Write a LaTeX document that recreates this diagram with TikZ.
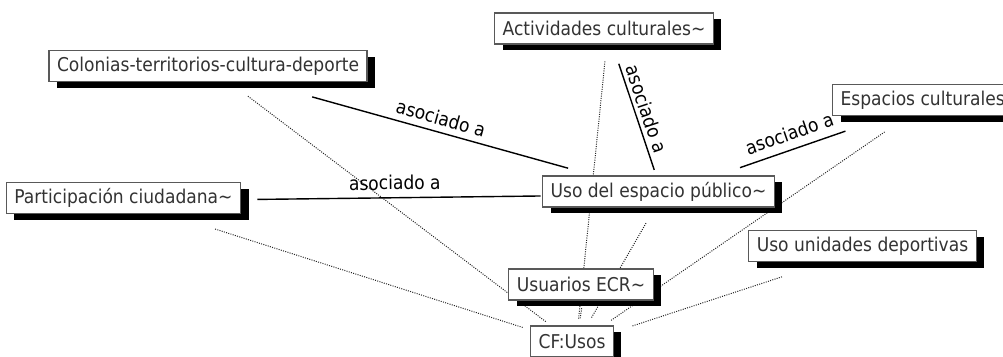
\documentclass[tikz,border=0pt]{standalone}
\usepackage{fontspec}
\setmainfont{DejaVu Sans Condensed}
\usetikzlibrary{shadows,backgrounds}

\tikzset{
  concept/.style={draw=black!65, line width=1.2pt, fill=white, text=black!80,
    inner xsep=8pt, minimum height=31pt, font=\fontsize{19}{21}\selectfont,
    drop shadow={shadow xshift=8pt, shadow yshift=-6pt, fill=black, opacity=1}},
  assoc/.style={line width=1.4pt},
  usage/.style={black!85, line width=1pt, dash pattern=on 1pt off 1.3pt},
  linkphrase/.style={sloped, font=\fontsize{19}{21}\selectfont, inner sep=2pt},
  ctr/.style={shift={(4,3)}}
}

\begin{document}
\begin{tikzpicture}[x=1pt,y=-1pt]
\useasboundingbox (0,0) rectangle (1003,356);

\node[concept] (act) at (604,28.5) {Actividades culturales\textasciitilde};
\node[concept] (col) at (208,66) {Colonias-territorios-cultura-deporte};
\node[concept, anchor=west] (esp) at (832,100) {Espacios culturales};
\node[concept] (uso) at (658.5,191.5) {Uso del espacio público\textasciitilde};
\node[concept] (par) at (123.5,198) {Participación ciudadana\textasciitilde};
\node[concept] (uud) at (862.5,246) {Uso unidades deportivas};
\node[concept] (usu) at (581,284.5) {Usuarios ECR\textasciitilde};
\node[concept] (cf) at (572,341.5) {CF:Usos};

\draw[assoc, shorten <=104pt, shorten >=98pt] ([ctr]col.center) -- node[linkphrase, above=4pt] {asociado a} ([ctr]uso.center);
\draw[assoc, shorten <=34pt, shorten >=26pt] ([ctr]act.center) -- node[linkphrase, above=2pt] {asociado a} ([ctr]uso.center);
\draw[assoc, shorten <=82pt, shorten >=86pt] ([ctr]uso.center) -- node[linkphrase, above=6pt] {asociado a} ([ctr]esp.center);
\draw[assoc, shorten <=130pt, shorten >=122pt] ([ctr]par.center) -- node[linkphrase, above=5pt] {asociado a} ([ctr]uso.center);

\begin{scope}[on background layer]
\draw[usage, shorten <=45pt, shorten >=38pt] ([ctr]col.center) -- ([ctr]cf.center);
\draw[usage, shorten <=92pt, shorten >=56pt] ([ctr]par.center) -- ([ctr]cf.center);
\draw[usage, shorten <=30pt, shorten >=26pt] ([ctr]act.center) -- ([ctr]cf.center);
\draw[usage, shorten <=51pt, shorten >=42pt] ([ctr]esp.center) -- ([ctr]cf.center);
\draw[usage, shorten <=33pt, shorten >=30pt] ([ctr]uso.center) -- ([ctr]cf.center);
\draw[usage, shorten <=21pt, shorten >=26pt] ([ctr]usu.center) -- ([ctr]cf.center);
\draw[usage, shorten <=89pt, shorten >=59pt] ([ctr]uud.center) -- ([ctr]cf.center);
\end{scope}

\end{tikzpicture}
\end{document}
